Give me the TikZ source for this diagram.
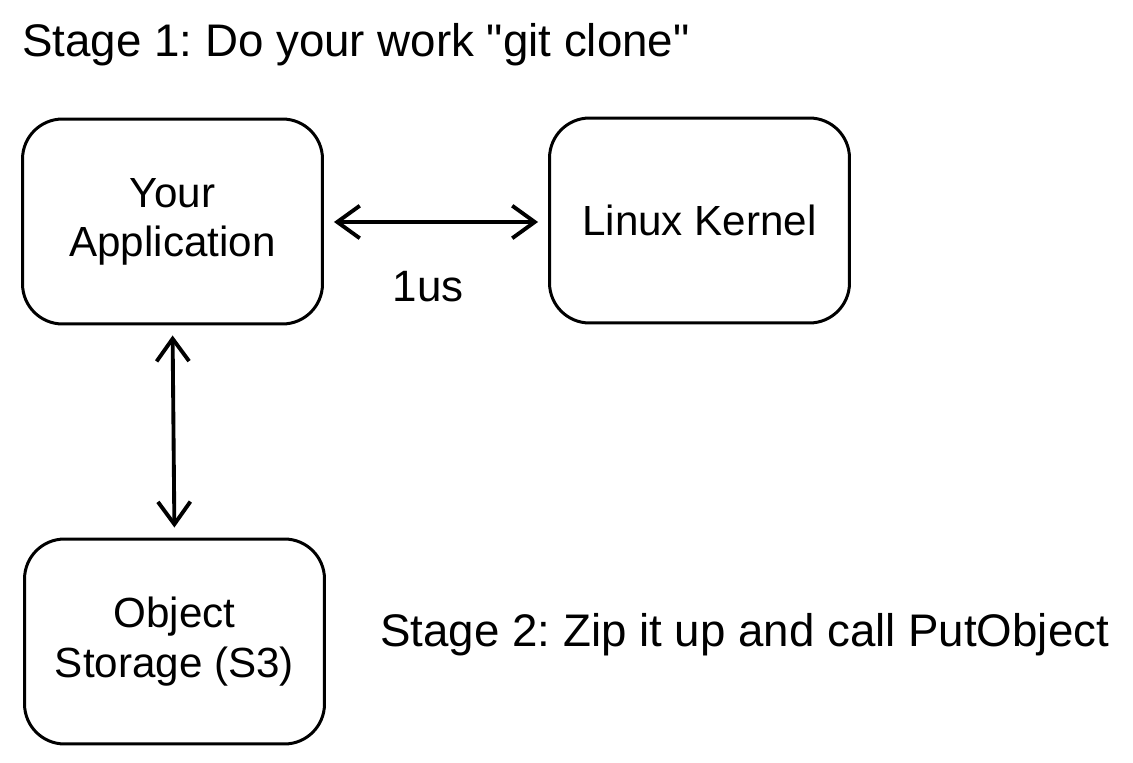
\documentclass[tikz,border=0pt]{standalone}
\usepackage{fontspec}
\setmainfont{Liberation Sans}
\usetikzlibrary{arrows.meta,positioning}
\tikzset{
  box/.style={draw, line width=1.7pt, rounded corners=0.8cm, minimum width=6cm, minimum height=4.1cm, align=center, font=\fontsize{24}{28}\selectfont},
  link/.style={{Straight Barb[length=0.45cm,width=0.65cm,line width=2.2pt]}-{Straight Barb[length=0.45cm,width=0.65cm,line width=2.2pt]}, line width=2.2pt, shorten <=0.2cm, shorten >=0.2cm},
  lbl/.style={font=\fontsize{26}{30}\selectfont, inner sep=0pt}
}
\frenchspacing
\begin{document}
\begin{tikzpicture}[x=0.02cm,y=-0.02cm]
\useasboundingbox (0,0) rectangle (1133,763);
\node[lbl, anchor=west] (stage1) at (22,45) {Stage 1: Do your work \textquotedbl git clone\textquotedbl};
\node[box] (app) at (172.5,221.5) {Your\\Application};
\node[box] (kernel) at (699.5,220.5) {Linux Kernel};
\node[box] (store) at (174.5,641.5) {Object\\Storage (S3)};
\node[lbl, anchor=west] (stage2) at (380,635) {Stage 2: Zip it up and call PutObject};
\draw[link] (app.east |- 0,222) -- (kernel.west |- 0,222);
\node[lbl, font=\fontsize{25}{30}\selectfont] (lat) at (428,287) {1us};
\draw[link] (app.south) -- (store.north);
\end{tikzpicture}
\end{document}
